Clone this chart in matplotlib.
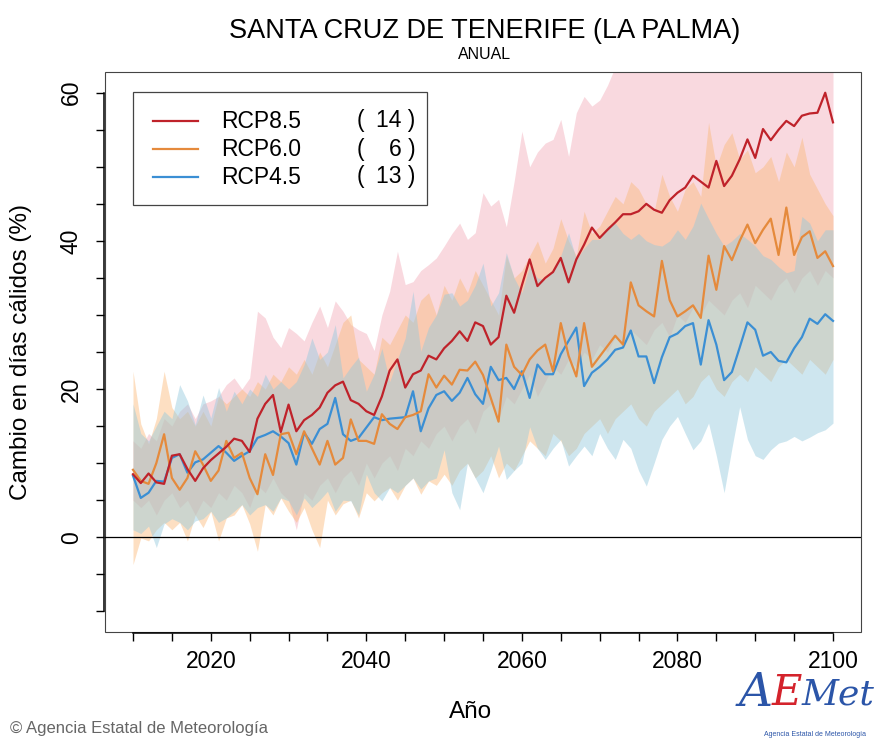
import matplotlib
matplotlib.use("Agg")
import matplotlib.pyplot as plt
import numpy as np
from matplotlib.lines import Line2D
from matplotlib.patches import Rectangle

years = list(range(2010, 2101))

rcp85_mid = [8.5, 7.3, 8.6, 7.4, 7.2, 11.0, 11.2, 9.2, 7.6, 9.3,
             10.4, 11.3, 12.2, 13.3, 13.0, 11.5, 16.0, 18.0, 19.2, 14.2,
             17.9, 14.3, 15.8, 16.5, 17.5, 19.5, 20.5, 21.0, 18.5, 18.0,
             17.0, 16.5, 19.0, 22.5, 24.0, 20.2, 22.0, 22.5, 24.5, 24.0,
             25.5, 26.5, 27.8, 26.5, 29.0, 28.5, 26.0, 27.0, 32.6, 30.3,
             34.0, 37.5, 33.9, 35.0, 35.8, 37.7, 34.4, 37.5, 39.5, 41.8,
             40.4, 41.5, 42.5, 43.6, 43.6, 44.0, 45.0, 44.2, 43.8, 45.5,
             46.5, 47.2, 48.8, 48.0, 47.2, 50.8, 47.4, 48.8, 51.0, 53.7,
             51.2, 55.1, 53.6, 55.0, 56.2, 55.5, 56.9, 57.2, 57.3, 60.0,
             56.0]
rcp85_hi = [13, 12, 14, 13, 16, 15, 17, 18, 16, 18,
            18.4, 19, 20.6, 21.5, 20, 21.5, 30.5, 29.6, 27, 25.6,
            28.3, 27.5, 26.5, 29, 31.2, 28.3, 31.9, 30.5, 28.7, 28,
            27.5, 25.2, 30, 33.2, 38.6, 34.1, 34.5, 36, 36.8, 37.7,
            39.3, 41, 42.4, 40.2, 41.1, 46.5, 44.7, 45.6, 41.9, 48,
            54.8, 50, 52, 53.2, 53.7, 56.4, 51.4, 57.3, 59.5, 58.2,
            59, 61, 63.5, 65, 66, 67, 66, 68, 69, 68,
            70, 71, 70, 72, 73, 74, 72, 75, 76, 75,
            77, 78, 77, 79, 80, 79, 81, 82, 81, 83,
            82]
rcp85_lo = [5, 4, 5, 3, 5, 6, 4, 5, 3, 5,
            4, 6, 5, 7, 6, 4, 7, 6, 8, 6,
            5, 1, 6, 5, 7, 8, 6, 8, 9, 7,
            10, 8, 10, 11, 9, 12, 11, 13, 12, 14,
            15, 13, 15, 16, 14, 17, 18, 16, 19, 18,
            20, 22, 19, 21, 23, 22, 24, 23, 25, 24,
            26, 25, 27, 26, 28, 27, 26, 28, 29, 27,
            30, 29, 31, 30, 32, 31, 30, 32, 33, 31,
            34, 33, 32, 34, 35, 33, 35, 36, 34, 36,
            35]

rcp60_mid = [9.1, 7.6, 7.2, 10.0, 13.9, 8.0, 6.4, 8.0, 11.6, 9.8,
             7.6, 9.0, 13.0, 10.7, 11.4, 8.0, 5.8, 11.2, 8.4, 13.9,
             14.1, 11.2, 14.3, 12.0, 9.8, 13.0, 9.8, 10.7, 15.9, 13.0,
             13.0, 12.6, 16.6, 15.3, 14.6, 16.2, 16.5, 17.0, 22.0, 20.2,
             21.8, 20.6, 22.6, 22.5, 23.7, 21.9, 18.8, 15.6, 26.0, 23.0,
             21.9, 24.0, 25.2, 26.0, 22.4, 28.9, 24.5, 21.7, 28.9, 23.0,
             24.4, 25.8, 27.2, 26.0, 34.4, 31.3, 30.5, 29.8, 37.3, 32.0,
             29.8, 30.5, 31.3, 29.6, 38.0, 33.4, 39.3, 37.4, 40.0, 42.2,
             39.7, 41.5, 43.0, 38.1, 44.5, 38.1, 40.5, 41.3, 37.7, 38.6,
             36.6]
rcp60_hi = [22.4, 15.3, 12.6, 16, 22.4, 17.5, 16, 17, 15, 17,
            15, 19, 18, 19, 20, 19, 21, 20, 22, 21,
            23, 22, 24, 22, 25, 23, 26, 29, 30, 24,
            23, 22, 27, 26, 28, 30, 29, 32, 33, 30,
            34, 32, 35, 33, 36, 34, 32, 30, 38, 35,
            36, 38, 40, 37, 39, 43, 40, 38, 44, 41,
            42, 44, 46, 45, 48, 47, 45, 44, 49, 46,
            44, 47, 48, 46, 56, 50, 53, 54.6, 51, 52.3,
            49.2, 50, 51.4, 48, 52, 50, 54, 49, 47, 45,
            43.4]
rcp60_lo = [-3.7, -0.1, -0.5, 1, 2, 1, 2, -0.5, 3, 1.3,
            3.5, -0.5, 2.6, 3, 4.4, 1.8, -1.9, 4.4, 3, 5.3,
            3.5, 2, 4, 1, -1.4, 5, 3, 4.5, 5, 2.6,
            6, 4.9, 6, 6.7, 5, 7, 8, 5.8, 7.6, 7,
            8.5, 7, 9, 10, 8, 9, 11, 8, 10, 9,
            11, 13, 12, 11, 14, 13, 11, 12, 14, 15,
            16, 14, 16, 17, 18, 16, 15, 17, 18, 19,
            20, 18, 19, 21, 22, 20, 19, 21, 22, 21,
            23, 22, 21, 23, 24, 23, 22, 24, 23, 22,
            24]

rcp45_mid = [8.3, 5.3, 6.0, 7.6, 7.5, 10.7, 11.2, 8.7, 10.1, 10.5,
             11.4, 12.3, 11.4, 10.3, 11.0, 11.6, 13.4, 13.8, 14.3, 13.6,
             12.7, 9.8, 14.1, 12.6, 14.6, 15.3, 18.8, 13.9, 13.0, 13.4,
             14.8, 16.2, 15.8, 16.0, 16.1, 16.2, 19.7, 14.3, 17.4, 19.2,
             19.7, 18.4, 19.5, 21.5, 19.3, 18.0, 23.0, 21.2, 21.5, 20.0,
             22.4, 18.8, 23.3, 22.0, 22.0, 24.7, 26.5, 28.3, 20.4, 22.2,
             23.0, 24.0, 25.3, 25.6, 27.9, 24.4, 24.4, 20.8, 24.3, 27.0,
             27.5, 28.5, 28.9, 23.3, 29.3, 26.0, 21.2, 22.3, 25.6, 29.0,
             28.0, 24.5, 25.0, 23.8, 23.6, 25.5, 27.0, 29.5, 28.8, 30.1,
             29.2]
rcp45_hi = [18, 14, 13, 15, 17, 16, 20.6, 18.4, 15.2, 19.2,
            16.1, 20.2, 17, 19.7, 18, 20, 19, 22, 20, 21,
            20, 21, 23.3, 26.9, 24, 25, 28.7, 21.5, 23, 24.3,
            19.7, 22, 25.5, 21, 24, 26.9, 33.2, 25.1, 28.3, 30,
            32.8, 33, 31.2, 32, 34, 37, 31.2, 33, 38.4, 35,
            33, 36.6, 35, 34.8, 36, 38, 41.1, 37.5, 39, 40.2,
            40.2, 42, 42.4, 41, 40.2, 41, 40, 39.5, 39.3, 40,
            41.5, 40.2, 42, 45.1, 43, 41, 39.3, 40, 41, 40.2,
            39.3, 38, 37.5, 36.5, 35.7, 36, 43.3, 42.4, 40, 41.5,
            41.5]
rcp45_lo = [1, 0.5, 1.5, -1.4, 1.8, 2.5, 2, 1, 2.2, 2.5,
            3.5, 2, 2.6, 3.5, 4.4, 3, 4, 4.4, 3.5, 5.3,
            4.9, 3, 5.3, 4, 5, 6.2, 3.5, 5, 4.9, 3,
            8.5, 6, 4.9, 6.7, 6, 7, 8, 6.5, 7.6, 8,
            11.8, 6, 3.7, 10, 8, 6, 9, 12.3, 7.8, 9,
            10, 14.9, 12, 10.5, 12, 13.2, 9.6, 11, 12.3, 11,
            14, 12, 10.5, 13.2, 12, 9, 6.9, 10, 13.2, 15,
            16.3, 14, 11.8, 13, 15.4, 11, 6, 12, 17.6, 13.2,
            11, 10.5, 11.8, 12.7, 13, 13.6, 13, 13.5, 14.1, 14.5,
            15.4]

scenarios = ["RCP8.5", "RCP6.0", "RCP4.5"]
n_models = [14, 6, 13]
line_colors = ["#bf222a", "#e58a3c", "#3b8fd4"]
band_colors = ["#f3abb9", "#fbb979", "#93c9dd"]

x_ticks = [2020, 2040, 2060, 2080, 2100]
y_ticks = [0, 20, 40, 60]


def main():
    plt.rcParams["font.family"] = ["Liberation Sans", "DejaVu Sans"]
    fig = plt.figure(figsize=(8.86, 7.44), dpi=100)
    ax = fig.add_axes([105 / 886, 1 - 632 / 744, 756 / 886, 560 / 744])

    x = np.array(years)
    mids = [rcp85_mid, rcp60_mid, rcp45_mid]
    his = [rcp85_hi, rcp60_hi, rcp45_hi]
    los = [rcp85_lo, rcp60_lo, rcp45_lo]

    for lo, hi, col in zip(los, his, band_colors):
        ax.fill_between(x, lo, hi, color=col, alpha=0.45, linewidth=0)

    ax.axhline(0, color="black", linewidth=0.9)

    for i in [2, 1, 0]:
        ax.plot(x, mids[i], color=line_colors[i], linewidth=1.6)

    ax.set_xlim(2006.4, 2103.6)
    ax.set_ylim(-12.8, 62.8)

    # R style: thin box plus axis lines that only span the ticks
    for side in ["top", "right"]:
        ax.spines[side].set_visible(False)
    ax.add_patch(Rectangle((0, 0), 1, 1, transform=ax.transAxes, fill=False,
                           edgecolor="#444444", linewidth=0.8, clip_on=False))
    ax.spines["left"].set_bounds(-10, 60)
    ax.spines["bottom"].set_bounds(2010, 2100)
    ax.spines["left"].set_position(("outward", 1))
    ax.spines["bottom"].set_position(("outward", 1))
    for side in ["left", "bottom"]:
        ax.spines[side].set_linewidth(1.1)

    ax.set_xticks(x_ticks)
    ax.set_xticks(range(2010, 2101, 5), minor=True)
    ax.set_yticks(y_ticks)
    ax.set_yticks(range(-10, 61, 5), minor=True)
    ax.tick_params(which="both", direction="out", length=6, width=1.0)
    ax.tick_params(axis="x", labelsize=16.5, pad=6)
    ax.tick_params(axis="y", labelsize=16.5, pad=9)
    plt.setp(ax.get_yticklabels(), rotation=90, va="center")

    ax.set_xlabel("Año", fontsize=17.5)
    ax.set_ylabel("Cambio en días cálidos (%)", fontsize=17.5)
    ax.xaxis.set_label_coords(0.483, -0.143)
    ax.xaxis.label.set_va("center")
    ax.yaxis.set_label_coords(-0.111, 0.5)
    ax.yaxis.label.set_va("center")

    fig.text(0.547, 0.958, "SANTA CRUZ DE TENERIFE (LA PALMA)", ha="center",
             va="center", fontsize=19.5)
    fig.text(0.547, 0.927, "ANUAL", ha="center", va="center", fontsize=11.5)

    # legend drawn by hand to copy the R layout with model counts
    ax.add_patch(Rectangle((0.037, 0.7625), 0.389, 0.2015, transform=ax.transAxes,
                           facecolor="white", edgecolor="#444444", linewidth=0.9,
                           zorder=5))
    for i, (name, n, col) in enumerate(zip(scenarios, n_models, line_colors)):
        yy = 0.9125 - i * 0.05
        ax.add_line(Line2D([0.0635, 0.123], [yy, yy], transform=ax.transAxes,
                           color=col, linewidth=1.6, zorder=6))
        ax.text(0.1535, yy, name, transform=ax.transAxes, fontsize=16.5,
                va="center", zorder=6)
        ax.text(0.333, yy, "(", transform=ax.transAxes, fontsize=16.5,
                va="center", zorder=6)
        ax.text(0.411, yy, f"{n} )", transform=ax.transAxes, fontsize=16.5,
                va="center", ha="right", zorder=6)

    fig.text(0.011, 0.021, "\u00a9 Agencia Estatal de Meteorología",
             fontsize=12, color="#666666", va="center")
    fig.text(0.853, 0.068, "A", fontsize=34, color="#2b55a8", va="center",
             ha="center", family="DejaVu Serif", style="italic")
    fig.text(0.888, 0.068, "E", fontsize=30, color="#d4232c", va="center",
             ha="center", family="DejaVu Serif", style="italic")
    fig.text(0.946, 0.066, "Met", fontsize=26, color="#2b55a8", va="center",
             ha="center", family="DejaVu Serif", style="italic")
    fig.text(0.92, 0.013, "Agencia Estatal de Meteorología", fontsize=5,
             color="#2b55a8", ha="center", va="center")

    fig.savefig("out.png", dpi=100)
    plt.close(fig)


if __name__ == "__main__":
    main()
